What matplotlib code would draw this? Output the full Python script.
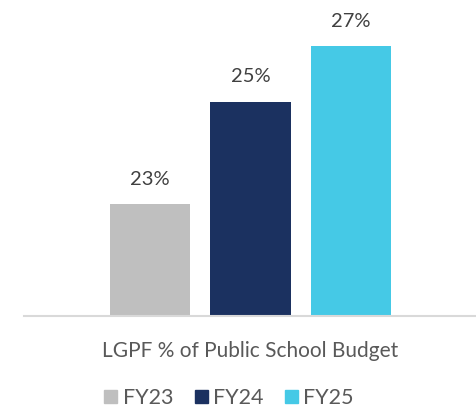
import matplotlib.pyplot as plt
from matplotlib.patches import Patch

# --- DATA ---
years = ["FY23", "FY24", "FY25"]
shares = [23.3, 25.4, 26.55]          # % of public school budget (labels are rounded)
labels = ["23%", "25%", "27%"]
category = "LGPF % of Public School Budget"
colors = ["#BFBFBF", "#1B3160", "#45C9E6"]

plt.rcParams['font.family'] = ['Lato', 'DejaVu Sans']

fig = plt.figure(figsize=(4.77, 4.11), dpi=100)
ax = fig.add_axes([24 / 477, 95 / 411, 1 - 24 / 477, 316 / 411])

xs = range(len(years))
bars = ax.bar(xs, shares, width=0.8, color=colors, bottom=0)
for x, v, lab in zip(xs, shares, labels):
    ax.annotate(lab, (x, v), xytext=(0, 12), textcoords='offset points',
                ha='center', va='bottom', fontsize=14.5, color='#404040')

ax.set_xlim(-1.25, 3.25)
ax.set_ylim(21, 27.5)
for s in ['top', 'right', 'left']:
    ax.spines[s].set_visible(False)
ax.spines['bottom'].set_color('#D9D9D9')
ax.spines['bottom'].set_linewidth(1.5)
ax.set_yticks([])
ax.set_xticks([1])
ax.set_xticklabels([category], fontsize=15, color='#595959')
ax.tick_params(axis='x', length=0, pad=18)

handles = [Patch(color=c, label=y) for c, y in zip(colors, years)]
leg = fig.legend(handles=handles, loc='center', bbox_to_anchor=(229 / 477, 13 / 411),
                 ncol=3, frameon=False, fontsize=15.5, handlelength=0.6, handleheight=0.6,
                 handletextpad=0.25, columnspacing=1.0)
for t in leg.get_texts():
    t.set_color('#595959')

fig.savefig("out.png", dpi=100)
